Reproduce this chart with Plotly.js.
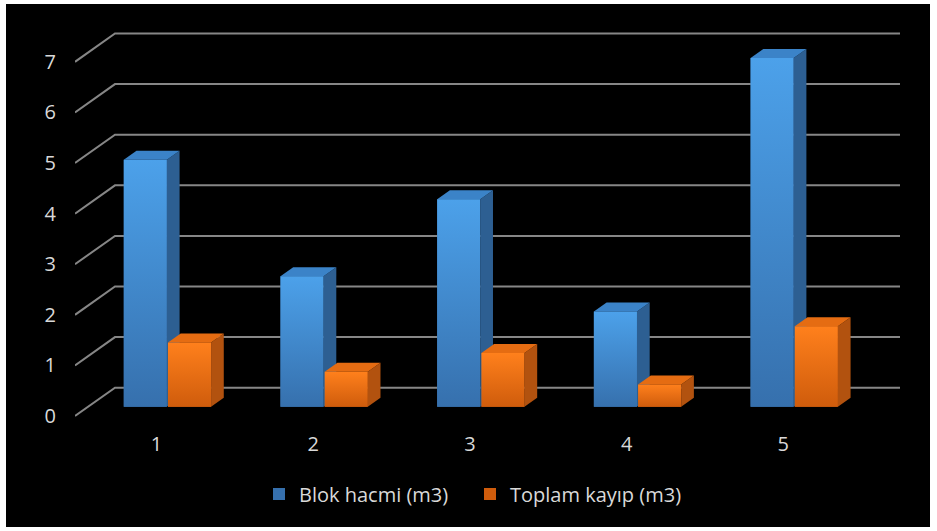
<!DOCTYPE html>
<html>
<head>
<meta charset="utf-8">
<script src="https://cdn.plot.ly/plotly-3.0.1.min.js"></script>
<style>
  html, body { margin: 0; padding: 0; background: #ffffff; width: 937px; height: 531px; overflow: hidden; }
  #chart { position: absolute; left: 6px; top: 4px; width: 924px; height: 523px; }
</style>
</head>
<body>
<div id="chart"></div>
<script>
// ---- data ----
const categories = [1, 2, 3, 4, 5];
const categoryLabels = ['1', '2', '3', '4', '5'];
const seriesNames = ['Blok hacmi (m3)', 'Toplam kayıp (m3)'];
const blokHacmi = [4.88, 2.58, 4.10, 1.88, 6.89];
const toplamKayip = [1.27, 0.69, 1.06, 0.44, 1.59];
const yTicks = [0, 1, 2, 3, 4, 5, 6, 7];

// ---- geometry of the pseudo-3D column chart ----
const W = 924, H = 523;
const M = { l: 69, r: 30, t: 26, b: 107 };
const plotW = W - M.l - M.r;
const plotH = H - M.t - M.b;
const pxPerCat = 156.7;     // horizontal distance between category groups
const pxPerUnit = 50.6;     // vertical pixels per value unit
const firstCenterPx = 92.5; // plot left edge -> first group centre
const zeroPx = 13.3;        // plot bottom -> column base
const xRange = [1 - firstCenterPx / pxPerCat, 1 - firstCenterPx / pxPerCat + plotW / pxPerCat];
const yRange = [-zeroPx / pxPerUnit, -zeroPx / pxPerUnit + plotH / pxPerUnit];

// oblique floor depth (front edge -> back wall), in axis units
const depthX = 40 / pxPerCat;
const depthY = 28.3 / pxPerUnit;
const barFront = 0.329, barBack = 0.647;   // column faces as depth fractions
function proj(x, y, d) { return [x + (d - barFront) * depthX, y + (d - barFront) * depthY]; }

const barW = 0.275;
const series = [
  { name: seriesNames[0], values: blokHacmi, offset: -0.279,
    bottom: '#3670ad', top: '#4ca1ea', side: '#2d5f92', lid: '#3b83c8' },
  { name: seriesNames[1], values: toplamKayip, offset: 0.003,
    bottom: '#cf5c0c', top: '#ff801c', side: '#b2520f', lid: '#e56c12' }
];

const traces = [];

// column front faces (legend entries)
series.forEach(s => {
  traces.push({
    type: 'bar', name: s.name, x: categories, y: s.values,
    offset: s.offset, width: barW,
    marker: { color: s.bottom, line: { width: 0 } },
    hovertemplate: '%{x}: %{y}<extra>' + s.name + '</extra>'
  });
});

function poly(pts, extra) {
  const xs = pts.map(p => p[0]).concat([pts[0][0]]);
  const ys = pts.map(p => p[1]).concat([pts[0][1]]);
  return Object.assign({
    type: 'scatter', mode: 'lines', x: xs, y: ys, fill: 'toself',
    line: { width: 0 }, showlegend: false, hoverinfo: 'skip'
  }, extra);
}

// shaded faces, drawn group by group so nearer faces cover farther ones
categories.forEach((c, i) => {
  series.forEach(s => {
    const v = s.values[i];
    const xl = c + s.offset, xr = xl + barW;
    traces.push(poly([[xl, 0], [xr, 0], [xr, v], [xl, v]], {
      fillgradient: { type: 'vertical', colorscale: [[0, s.bottom], [1, s.top]] }
    }));
    traces.push(poly([[xr, 0], proj(xr, 0, barBack), proj(xr, v, barBack), [xr, v]],
      { fillcolor: s.side }));
    traces.push(poly([[xl, v], [xr, v], proj(xr, v, barBack), proj(xl, v, barBack)],
      { fillcolor: s.lid }));
  });
});

// back-wall gridlines with their diagonal along the side wall
const shapes = yTicks.map(v => {
  const f = [xRange[0], v - barFront * depthY];
  const b = [xRange[0] + depthX, v + (1 - barFront) * depthY];
  return {
    type: 'path', xref: 'x', yref: 'y', layer: 'below',
    path: `M ${f[0]},${f[1]} L ${b[0]},${b[1]} L ${xRange[1]},${b[1]}`,
    line: { color: '#868686', width: 2 }
  };
});

const tickFont = { family: 'Open Sans, Noto Sans, sans-serif', size: 20, color: '#d9d9d9' };
const shiftX = 0.07;

const layout = {
  width: W, height: H,
  margin: M,
  paper_bgcolor: '#000000', plot_bgcolor: '#000000',
  barmode: 'overlay',
  showlegend: true,
  xaxis: { range: xRange, visible: false, fixedrange: true },
  yaxis: { range: yRange, visible: false, fixedrange: true },
  xaxis2: {
    overlaying: 'x', anchor: 'y', side: 'bottom',
    range: [xRange[0] + shiftX, xRange[1] + shiftX],
    tickmode: 'array', tickvals: categories, ticktext: categoryLabels,
    showgrid: false, zeroline: false, showline: false,
    ticks: 'outside', ticklen: 6, tickcolor: 'rgba(0,0,0,0)',
    tickfont: tickFont
  },
  yaxis2: {
    overlaying: 'y', anchor: 'x', side: 'left',
    range: [yRange[0] + barFront * depthY, yRange[1] + barFront * depthY],
    tickmode: 'array', tickvals: yTicks, ticktext: yTicks.map(String),
    showgrid: false, zeroline: false, showline: false,
    ticks: 'outside', ticklen: 14, tickcolor: 'rgba(0,0,0,0)',
    tickfont: tickFont
  },
  shapes: shapes,
  legend: {
    orientation: 'h', xanchor: 'left', yanchor: 'middle',
    x: (259 - 75) / plotW, y: -0.19,
    entrywidth: 166, entrywidthmode: 'pixels',
    font: { family: 'Open Sans, Noto Sans, sans-serif', size: 20, color: '#d9d9d9' },
    bgcolor: 'rgba(0,0,0,0)', itemclick: false, itemdoubleclick: false,
    traceorder: 'normal'
  }
};

// empty trace bound to the label axes so they render
traces.push({ type: 'scatter', x: [], y: [], xaxis: 'x2', yaxis: 'y2', showlegend: false, hoverinfo: 'skip' });

Plotly.newPlot('chart', traces, layout, { displayModeBar: false });
</script>
</body>
</html>
